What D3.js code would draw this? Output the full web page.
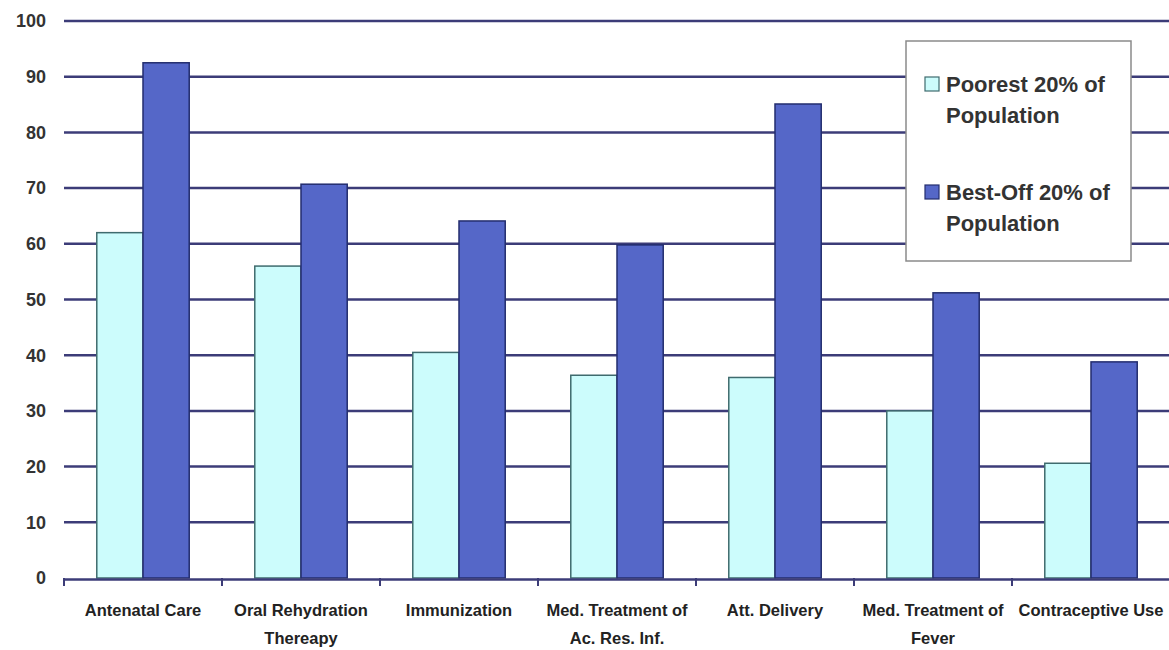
<!DOCTYPE html>
<html>
<head>
<meta charset="utf-8">
<script src="https://cdn.jsdelivr.net/npm/d3@7"></script>
<style>
  body { margin: 0; background: #fff; }
  svg { display: block; font-family: "Liberation Sans", Arial, sans-serif; }
  .ytick text { font-size: 18px; font-weight: bold; fill: #333; }
  .xlab { font-size: 16.5px; font-weight: bold; fill: #222; }
  .leg { font-size: 22px; font-weight: bold; fill: #333; }
</style>
</head>
<body>
<div id="chart"></div>
<script>
var categories = [
  ["Antenatal Care"],
  ["Oral Rehydration", "Thereapy"],
  ["Immunization"],
  ["Med. Treatment of", "Ac. Res. Inf."],
  ["Att. Delivery"],
  ["Med. Treatment of", "Fever"],
  ["Contraceptive Use"]
];
var seriesNames = ["Poorest 20% of Population", "Best-Off 20% of Population"];
var poorest = [62, 56, 40.5, 36.4, 36, 30, 20.6];
var bestOff = [92.5, 70.7, 64.1, 59.8, 85.1, 51.2, 38.8];
var yTicks = [0, 10, 20, 30, 40, 50, 60, 70, 80, 90, 100];

var width = 1169, height = 650;
var colors = ["#ccfcfc", "#5567c8"];
var strokes = ["#3f6b6e", "#232d6e"];

var svg = d3.select("#chart").append("svg")
    .attr("width", width)
    .attr("height", height);

var x = d3.scaleBand()
    .domain(d3.range(categories.length))
    .range([64, 1170])
    .paddingInner(0.415)
    .paddingOuter(0.2075);

var x1 = d3.scaleBand()
    .domain([0, 1])
    .range([0, x.bandwidth()]);

var y = d3.scaleLinear()
    .domain([0, 100])
    .range([578, 21]);

// gridlines
svg.append("g").selectAll("line")
    .data(yTicks.filter(function(d) { return d > 0; }))
  .enter().append("line")
    .attr("x1", 64)
    .attr("x2", width)
    .attr("y1", function(d) { return y(d); })
    .attr("y2", function(d) { return y(d); })
    .attr("stroke", "#3c3c78")
    .attr("stroke-width", 2.5);

// y labels
var yt = svg.append("g").attr("class", "ytick");
yt.selectAll("text")
    .data(yTicks)
  .enter().append("text")
    .attr("x", 46)
    .attr("y", function(d) { return y(d); })
    .attr("dy", "0.35em")
    .attr("text-anchor", "end")
    .text(function(d) { return d; });

// bars
var rows = categories.map(function(c, i) { return [poorest[i], bestOff[i]]; });
var groups = svg.append("g").selectAll("g")
    .data(rows)
  .enter().append("g")
    .attr("transform", function(d, i) { return "translate(" + x(i) + ",0)"; });

groups.selectAll("rect")
    .data(function(d) { return d; })
  .enter().append("rect")
    .attr("x", function(d, j) { return x1(j); })
    .attr("y", function(d) { return y(d); })
    .attr("width", x1.bandwidth())
    .attr("height", function(d) { return y(0) - y(d); })
    .attr("fill", function(d, j) { return colors[j]; })
    .attr("stroke", function(d, j) { return strokes[j]; })
    .attr("stroke-width", 1.5);

// x axis
var step = x.step();
var axisG = svg.append("g");
axisG.append("line")
    .attr("x1", 64).attr("x2", width)
    .attr("y1", y(0) + 1.5).attr("y2", y(0) + 1.5)
    .attr("stroke", "#3c3c78")
    .attr("stroke-width", 2.5);
axisG.selectAll(".tk")
    .data(d3.range(categories.length + 1))
  .enter().append("line")
    .attr("x1", function(i) { return 64 + i * step; })
    .attr("x2", function(i) { return 64 + i * step; })
    .attr("y1", y(0))
    .attr("y2", y(0) + 8)
    .attr("stroke", "#3c3c78")
    .attr("stroke-width", 2);

var labs = svg.append("g").selectAll("text")
    .data(categories)
  .enter().append("text")
    .attr("class", "xlab")
    .attr("text-anchor", "middle")
    .attr("transform", function(d, i) { return "translate(" + (x(i) + x.bandwidth() / 2) + ",616)"; });
labs.selectAll("tspan")
    .data(function(d) { return d; })
  .enter().append("tspan")
    .attr("x", 0)
    .attr("y", function(d, k) { return k * 28; })
    .text(function(d) { return d; });

// legend
var leg = svg.append("g");
leg.append("rect")
    .attr("x", 906).attr("y", 41)
    .attr("width", 225).attr("height", 220)
    .attr("fill", "#fff")
    .attr("stroke", "#8a8a8a")
    .attr("stroke-width", 1.5);

var legItems = [["Poorest 20% of", "Population"], ["Best-Off 20% of", "Population"]];
legItems.forEach(function(lines, j) {
  var top = 92 + j * 108;
  leg.append("rect")
      .attr("x", 925).attr("y", top - 15)
      .attr("width", 14).attr("height", 14)
      .attr("fill", colors[j])
      .attr("stroke", strokes[j])
      .attr("stroke-width", 1.2);
  var t = leg.append("text")
      .attr("class", "leg")
      .attr("x", 946)
      .attr("y", top);
  t.selectAll("tspan")
      .data(lines)
    .enter().append("tspan")
      .attr("x", 946)
      .attr("y", function(d, k) { return top + k * 31; })
      .text(function(d) { return d; });
});
</script>
</body>
</html>
